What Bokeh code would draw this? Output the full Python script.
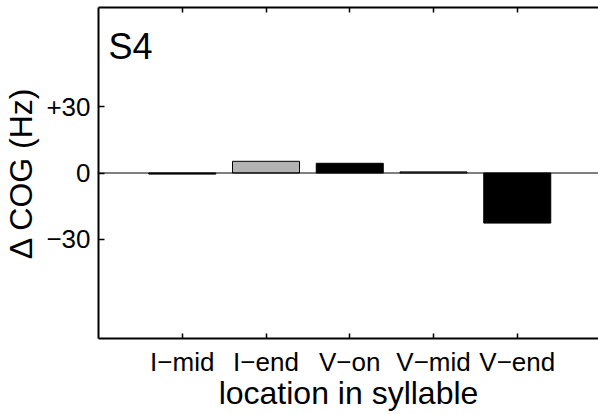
import numpy as np
from bokeh.plotting import figure
from bokeh.models import LinearAxis, FixedTicker, Span, Label, Range1d
from bokeh.embed import file_html
from bokeh.resources import INLINE

# ---- data ----
categories = ["I\u2212mid", "I\u2212end", "V\u2212on", "V\u2212mid", "V\u2212end"]
cog_shift = [-0.5, 5.3, 4.4, 0.5, -22.7]          # Delta COG (Hz)
y_ticks = [-30, 0, 30]
y_tick_labels = ["\u221230", "0", "+30"]
panel_label = "S4"

# ---- style ----
bar_fill = ["black", "#b3b3b3", "black", "#b3b3b3", "black"]
FONT = "Liberation Sans"

positions = list(np.arange(1, len(categories) + 1))

p = figure(width=598, height=414, output_backend="svg", toolbar_location=None,
           x_range=Range1d(0, 5.97), y_range=Range1d(-75, 75),
           min_border_left=98, min_border_right=0, min_border_top=7,
           min_border_bottom=76)
p.outline_line_color = None
p.outline_line_alpha = 0
p.grid.visible = False
p.background_fill_color = "white"
p.border_fill_color = "white"

p.vbar(x=positions, top=cog_shift, bottom=0, width=0.8,
       fill_color=bar_fill, line_color="black", line_width=1)

p.add_layout(Span(location=0, dimension="width", line_color="black", line_width=1))

# x axis (bottom)
xa = p.xaxis[0]
xa.ticker = FixedTicker(ticks=positions)
xa.major_label_overrides = {int(k): v for k, v in zip(positions, categories)}
xa.axis_label = "location in syllable"
xa.axis_label_text_font = FONT
xa.axis_label_text_font_size = "32px"
xa.axis_label_text_font_style = "normal"
xa.axis_label_text_color = "black"
xa.axis_label_standoff = -5
xa.major_label_text_font = FONT
xa.major_label_text_font_size = "26px"
xa.major_label_text_color = "black"
xa.major_label_standoff = 8
xa.major_tick_in = 5
xa.major_tick_out = 0
xa.minor_tick_line_color = None
xa.axis_line_width = 2
xa.major_tick_line_width = 1.5

# y axis (left)
ya = p.yaxis[0]
ya.ticker = FixedTicker(ticks=y_ticks)
ya.major_label_overrides = {t: l for t, l in zip(y_ticks, y_tick_labels)}
ya.axis_label = "\u0394 COG (Hz)"
ya.axis_label_text_font = FONT
ya.axis_label_text_font_size = "32px"
ya.axis_label_text_font_style = "normal"
ya.axis_label_text_color = "black"
ya.axis_label_standoff = 4
ya.major_label_text_font = FONT
ya.major_label_text_font_size = "26px"
ya.major_label_text_color = "black"
ya.major_label_standoff = 8
ya.major_tick_in = 6
ya.major_tick_out = 0
ya.minor_tick_line_color = None
ya.axis_line_width = 2
ya.major_tick_line_width = 1.5

# top axis: mirrored ticks only
ta = LinearAxis(ticker=FixedTicker(ticks=positions),
                major_label_text_font_size="0px", major_label_text_color=None,
                major_label_standoff=0,
                major_tick_in=5, major_tick_out=0, minor_tick_line_color=None,
                axis_line_width=2, major_tick_line_width=1.5)
p.add_layout(ta, "above")

p.add_layout(Label(x=0.12, y=57.3, text=panel_label, text_font=FONT,
                   text_font_size="36px", text_baseline="alphabetic",
                   text_color="black"))

open("out.html", "w").write(file_html(p, INLINE))
